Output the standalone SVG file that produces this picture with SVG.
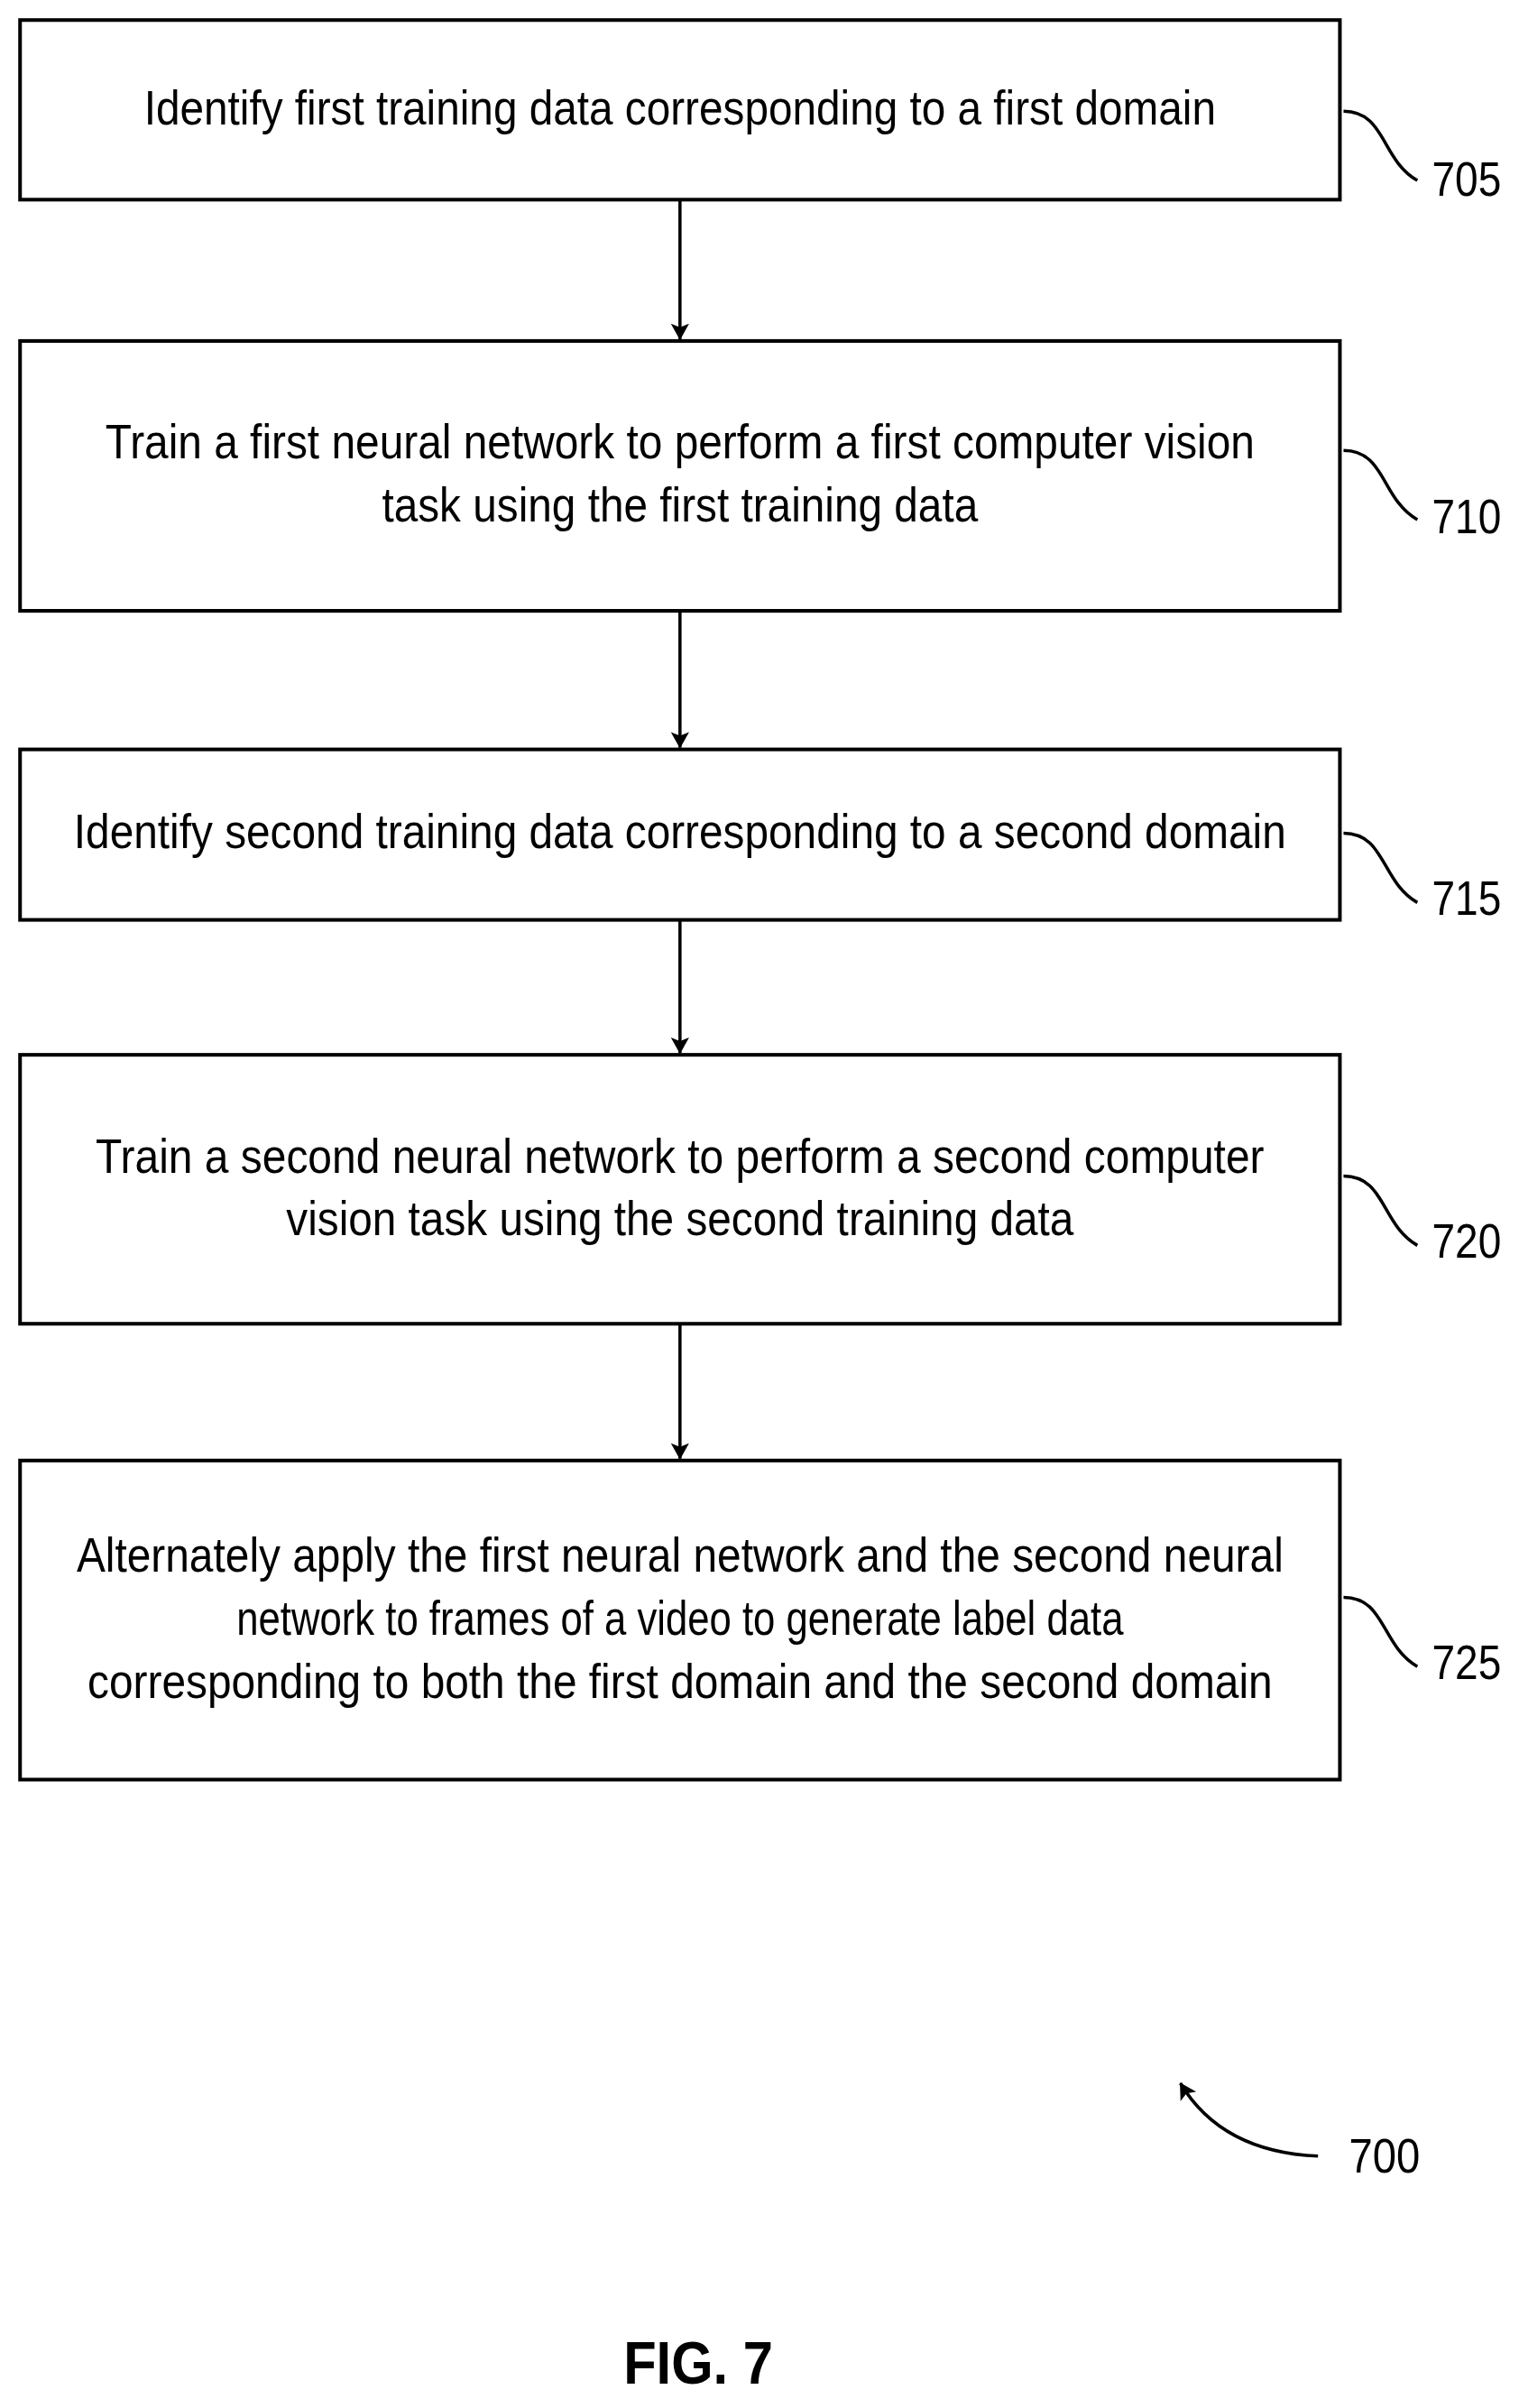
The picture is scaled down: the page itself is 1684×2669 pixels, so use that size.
<svg xmlns="http://www.w3.org/2000/svg" width="1684" height="2669" viewBox="0 0 1684 2669">
<style>
.b{fill:#fff;stroke:#000;stroke-width:4}
.t{font-family:"Liberation Sans",Arial,sans-serif;font-size:54px;text-anchor:middle;fill:#000}
.l{font-family:"Liberation Sans",Arial,sans-serif;font-size:54px;fill:#000}
.c{fill:none;stroke:#000;stroke-width:3.5}
</style>
<defs><marker id="a" markerWidth="18" markerHeight="26" refX="17" refY="13" orient="auto" markerUnits="userSpaceOnUse"><path d="M0,3 L18,13 L0,23 L4,13 Z" fill="#000"/></marker></defs>
<rect width="1684" height="2669" fill="#fff"/>
<g transform="scale(1.0105)">
<g id="n705"><rect class="b" x="22" y="22" width="1448" height="197"/>
<text class="t" x="746" y="137" textLength="1176" lengthAdjust="spacingAndGlyphs">Identify first training data corresponding to a first domain</text>
<path class="c" d="M1474,122 C1520,122 1515,175 1555,198"/><text class="l" x="1571" y="215" textLength="76" lengthAdjust="spacingAndGlyphs">705</text></g>
<g id="n710"><rect class="b" x="22" y="374" width="1448" height="296"/>
<text class="t" x="746" y="503" textLength="1261" lengthAdjust="spacingAndGlyphs">Train a first neural network to perform a first computer vision</text>
<text class="t" x="746" y="572" textLength="654" lengthAdjust="spacingAndGlyphs">task using the first training data</text>
<path class="c" d="M1474,494 C1520,494 1515,547 1555,570"/><text class="l" x="1571" y="585" textLength="76" lengthAdjust="spacingAndGlyphs">710</text></g>
<g id="n715"><rect class="b" x="22" y="822" width="1448" height="187"/>
<text class="t" x="746" y="930" textLength="1330" lengthAdjust="spacingAndGlyphs">Identify second training data corresponding to a second domain</text>
<path class="c" d="M1474,914 C1520,914 1515,967 1555,990"/><text class="l" x="1571" y="1003" textLength="76" lengthAdjust="spacingAndGlyphs">715</text></g>
<g id="n720"><rect class="b" x="22" y="1157" width="1448" height="295"/>
<text class="t" x="746" y="1286" textLength="1282" lengthAdjust="spacingAndGlyphs">Train a second neural network to perform a second computer</text>
<text class="t" x="746" y="1355" textLength="864" lengthAdjust="spacingAndGlyphs">vision task using the second training data</text>
<path class="c" d="M1474,1290 C1520,1290 1515,1343 1555,1366"/><text class="l" x="1571" y="1380" textLength="76" lengthAdjust="spacingAndGlyphs">720</text></g>
<g id="n725"><rect class="b" x="22" y="1602" width="1448" height="350"/>
<text class="t" x="746" y="1724" textLength="1324" lengthAdjust="spacingAndGlyphs">Alternately apply the first neural network and the second neural</text>
<text class="t" x="746" y="1793" textLength="973" lengthAdjust="spacingAndGlyphs">network to frames of a video to generate label data</text>
<text class="t" x="746" y="1862" textLength="1300" lengthAdjust="spacingAndGlyphs">corresponding to both the first domain and the second domain</text>
<path class="c" d="M1474,1752 C1520,1752 1515,1805 1555,1828"/><text class="l" x="1571" y="1842" textLength="76" lengthAdjust="spacingAndGlyphs">725</text></g>
<g id="connectors">
<line class="c" x1="746" y1="219" x2="746" y2="372" marker-end="url(#a)"/>
<line class="c" x1="746" y1="670" x2="746" y2="820" marker-end="url(#a)"/>
<line class="c" x1="746" y1="1009" x2="746" y2="1155" marker-end="url(#a)"/>
<line class="c" x1="746" y1="1452" x2="746" y2="1600" marker-end="url(#a)"/>
</g>
<g id="ref700"><path class="c" d="M1446,2365 C1375,2362 1325,2335 1295,2285" marker-end="url(#a)"/>
<text class="l" x="1480" y="2383" textLength="78" lengthAdjust="spacingAndGlyphs">700</text></g>
<text x="766" y="2615" font-family="Liberation Sans,Arial,sans-serif" font-size="66" font-weight="bold" text-anchor="middle" textLength="164" lengthAdjust="spacingAndGlyphs">FIG. 7</text>
</g>
</svg>
